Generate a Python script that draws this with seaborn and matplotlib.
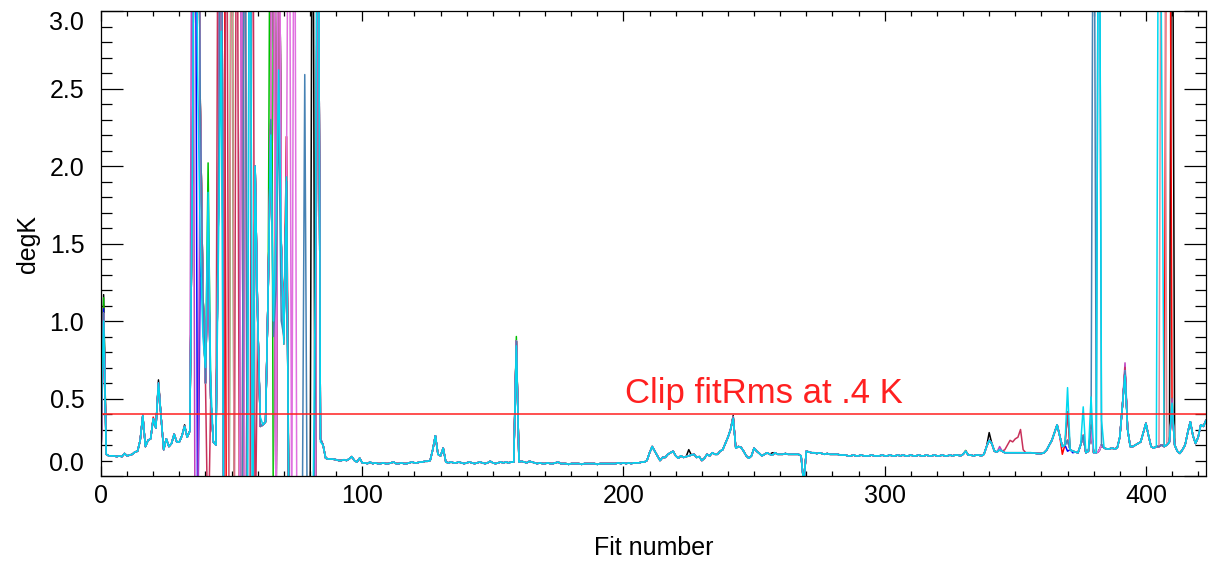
import numpy as np
import pandas as pd
import matplotlib
matplotlib.use("Agg")
import matplotlib.pyplot as plt
import seaborn as sns
from matplotlib.ticker import MultipleLocator

# ---------- data ----------
HI = 5.0    # value off the top of the plot
LO = -0.5   # value off the bottom

# common fitRms track (fits 0..423), 10 per line
base_rms = [
    0.12, 1.05, 0.14, 0.13, 0.13, 0.13, 0.125, 0.13, 0.125, 0.145,
    0.13, 0.135, 0.14, 0.155, 0.16, 0.23, 0.39, 0.19, 0.23, 0.24,
    0.37, 0.31, 0.60, 0.38, 0.17, 0.24, 0.19, 0.21, 0.27, 0.22,
    0.22, 0.26, 0.32, 0.25, 0.29, 2.0, HI, HI, 2.4, 1.2,
    0.6, 1.5, 0.5, 0.22, 0.2, 1.8, HI, LO, LO, LO,
    LO, LO, LO, LO, LO, LO, LO, LO, LO, 2.0,
    1.0, 0.32, 0.33, 0.35, 1.2, 2.3, HI, LO, HI, 1.5,
    0.9, 1.9, LO, LO, LO, LO, LO, LO, LO, LO,
    LO, LO, LO, HI, 0.24, 0.2, 0.115, 0.11, 0.11, 0.108,
    0.105, 0.1, 0.1, 0.105, 0.1, 0.11, 0.125, 0.1, 0.09, 0.115,
    0.085, 0.085, 0.08, 0.09, 0.08, 0.085, 0.08, 0.08, 0.085, 0.08,
    0.08, 0.085, 0.09, 0.08, 0.08, 0.085, 0.08, 0.08, 0.085, 0.09,
    0.085, 0.085, 0.09, 0.09, 0.095, 0.095, 0.1, 0.17, 0.26, 0.14,
    0.13, 0.18, 0.09, 0.085, 0.09, 0.085, 0.085, 0.09, 0.085, 0.08,
    0.085, 0.09, 0.085, 0.08, 0.085, 0.09, 0.085, 0.08, 0.085, 0.095,
    0.085, 0.08, 0.085, 0.09, 0.085, 0.09, 0.085, 0.09, 0.09, 0.87,
    0.09, 0.095, 0.09, 0.085, 0.095, 0.09, 0.085, 0.08, 0.085, 0.08,
    0.08, 0.085, 0.08, 0.08, 0.085, 0.09, 0.08, 0.08, 0.08, 0.075,
    0.08, 0.08, 0.08, 0.08, 0.075, 0.08, 0.08, 0.08, 0.08, 0.08,
    0.075, 0.08, 0.08, 0.08, 0.08, 0.08, 0.08, 0.08, 0.085, 0.08,
    0.085, 0.08, 0.085, 0.08, 0.085, 0.085, 0.085, 0.09, 0.09, 0.1,
    0.15, 0.19, 0.16, 0.13, 0.1, 0.12, 0.12, 0.14, 0.15, 0.16,
    0.13, 0.115, 0.13, 0.12, 0.125, 0.13, 0.135, 0.14, 0.12, 0.125,
    0.1, 0.115, 0.14, 0.13, 0.15, 0.14, 0.14, 0.16, 0.17, 0.21,
    0.25, 0.3, 0.38, 0.18, 0.19, 0.185, 0.16, 0.13, 0.115, 0.13,
    0.18, 0.16, 0.146, 0.13, 0.14, 0.15, 0.14, 0.135, 0.15, 0.14,
    0.14, 0.14, 0.145, 0.14, 0.14, 0.14, 0.14, 0.14, 0.13, -0.05,
    0.16, 0.155, 0.15, 0.15, 0.145, 0.15, 0.145, 0.14, 0.145, 0.14,
    0.14, 0.14, 0.14, 0.135, 0.135, 0.135, 0.13, 0.13, 0.135, 0.13,
    0.13, 0.135, 0.13, 0.13, 0.13, 0.135, 0.13, 0.13, 0.13, 0.135,
    0.13, 0.13, 0.135, 0.13, 0.13, 0.135, 0.13, 0.135, 0.13, 0.13,
    0.135, 0.13, 0.13, 0.135, 0.13, 0.13, 0.135, 0.13, 0.13, 0.135,
    0.13, 0.13, 0.135, 0.13, 0.13, 0.135, 0.13, 0.135, 0.135, 0.13,
    0.14, 0.16, 0.135, 0.135, 0.13, 0.135, 0.135, 0.13, 0.14, 0.19,
    0.23, 0.21, 0.16, 0.155, 0.17, 0.16, 0.15, 0.15, 0.15, 0.15,
    0.15, 0.15, 0.15, 0.15, 0.15, 0.15, 0.15, 0.148, 0.146, 0.145,
    0.145, 0.15, 0.167, 0.2, 0.23, 0.28, 0.33, 0.26, 0.19, 0.2,
    0.23, 0.17, 0.16, 0.155, 0.15, 0.2, 0.26, 0.15, 0.16, 0.3,
    0.15, 0.15, 0.16, 0.2, 0.18, 0.175, 0.175, 0.18, 0.175, 0.18,
    0.25, 0.45, 0.68, 0.3, 0.19, 0.19, 0.2, 0.21, 0.22, 0.28,
    0.34, 0.26, 0.19, 0.18, 0.19, 0.19, 0.2, 0.19, 0.2, 0.22,
    0.45, 0.2, 0.16, 0.146, 0.17, 0.2, 0.28, 0.35, 0.26, 0.21,
    0.25, 0.33, 0.32, 0.36,
]

series_order = ["black", "red", "green", "blue", "magenta",
                "crimson", "pink", "orchid", "steel", "cyan"]

palette = {"black": "#000000", "red": "#ff0000", "green": "#00c000",
           "blue": "#0000ff", "magenta": "#c040c0", "crimson": "#c8305a",
           "pink": "#e08898", "orchid": "#e070e0", "steel": "#4682b4",
           "cyan": "#00d8f0"}

# where each series departs from the common track  {fit: value}
spikes = {
    "black":   {1: 1.17, 22: 0.62, 32: 0.33, 54: HI, 70: 0.95, 81: HI,
                225: 0.17, 242: 0.39, 257: 0.15, 340: 0.28, 410: HI},
    "red":     {1: 1.1, 20: 0.38, 47: HI, 70: 0.85, 71: 2.19, 368: 0.14,
                370: 0.415, 408: HI, 409: HI},
    "green":   {1: 1.15, 41: 2.02, 50: HI, 65: HI, 66: LO, 159: 0.9,
                331: 0.165, 410: 0.5},
    "blue":    {1: 1.08, 36: HI, 37: LO, 38: 1.39, 368: 0.19, 370: 0.16,
                372: 0.15},
    "magenta": {1: 1.05, 35: HI, 36: LO, 37: LO, 54: HI, 344: 0.19,
                392: 0.73, 410: 0.5},
    "crimson": {1: 1.0, 41: LO, 45: HI, 48: HI, 52: HI, 55: HI, 58: HI,
                59: LO, 70: 0.88, 71: 2.19, 346: 0.17, 347: 0.2,
                348: 0.23, 349: 0.22, 350: 0.24, 351: 0.25, 352: 0.3,
                353: 0.17, 370: 0.415, 376: 0.265, 379: 0.33, 392: 0.7},
    "pink":    {50: HI, 406: HI, 407: HI},
    "orchid":  {54: HI, 72: HI, 74: HI},
    "steel":   {55: HI, 57: HI, 66: 0.9, 67: 1.2, 68: 2.4, 69: 1.0,
                78: 2.59, 82: 0.5, 380: HI, 382: HI},
    "cyan":    {0: 0.38, 1: 1.0, 37: 2.6, 38: 1.5, 39: 0.9, 40: 0.7,
                41: 1.83, 42: 0.6, 45: 1.5, 46: 2.87, 57: HI, 61: 0.38,
                65: 2.2, 66: 1.0, 67: 1.6, 68: 2.62, 70: 0.85, 71: 1.93,
                82: 1.2, 84: 0.22, 159: 0.84, 242: 0.37, 370: 0.57,
                376: 0.446, 379: 0.51, 382: HI, 383: 0.36, 392: 0.65,
                405: HI, 406: 2.73, 410: 0.47},
}

y_ticks = [0.0, 0.5, 1.0, 1.5, 2.0, 2.5, 3.0]
y_labels = ["0.0", "0.5", "1.0", "1.5", "2.0", "2.5", "3.0"]
x_ticks = [0, 100, 200, 300, 400]

# ---------- build long table ----------
fits = np.arange(len(base_rms))
frames = []
for name in series_order:
    vals = list(base_rms)
    for k, v in spikes[name].items():
        vals[k] = v
    frames.append(pd.DataFrame({"fit": fits, "rms": vals, "series": name}))
df = pd.concat(frames, ignore_index=True)

# ---------- plot ----------
sns.set_style("ticks")
plt.rcParams["font.family"] = ["Liberation Sans", "DejaVu Sans"]
plt.rcParams["text.color"] = "black"
plt.rcParams["axes.labelcolor"] = "black"
plt.rcParams["xtick.color"] = "black"
plt.rcParams["ytick.color"] = "black"

fig = plt.figure(figsize=(12.12, 5.62), dpi=100)
ax = fig.add_axes([101 / 1212, 86 / 562, 1105 / 1212, 465 / 562])

sns.lineplot(data=df, x="fit", y="rms", hue="series", hue_order=series_order,
             palette=palette, estimator=None, sort=False, legend=False,
             lw=1.1, ax=ax)

ax.axhline(0.4, color="#ff2020", lw=1.1)
ax.text(200.5, 0.47, "Clip fitRms at .4 K", color="#ff2020", fontsize=25)

ax.set_xlim(0, 423)
ax.set_ylim(0, 3.0)
ax.set_xticks(x_ticks)
ax.xaxis.set_minor_locator(MultipleLocator(10))
ax.set_yticks(y_ticks)
ax.set_yticklabels(y_labels)
ax.yaxis.set_minor_locator(MultipleLocator(0.1))
ax.get_yticklabels()[0].set_verticalalignment("bottom")
ax.get_yticklabels()[-1].set_verticalalignment("top")

ax.tick_params(which="both", direction="in", top=True, right=True,
               color="black", labelcolor="black", width=0.9, labelsize=18)
ax.tick_params(axis="y", which="major", length=16, pad=12)
ax.tick_params(axis="y", which="minor", length=8)
ax.tick_params(axis="x", which="major", length=7, pad=6)
ax.tick_params(axis="x", which="minor", length=3.6)
for s in ax.spines.values():
    s.set_linewidth(0.9)
    s.set_color("black")

ax.set_xlabel("Fit number", fontsize=18, color="black")
ax.set_ylabel("degK", fontsize=18, color="black")
ax.yaxis.set_label_coords(-0.055, 0.5)
ax.xaxis.set_label_coords(0.5, -0.13)

fig.savefig("out.png", dpi=100)
